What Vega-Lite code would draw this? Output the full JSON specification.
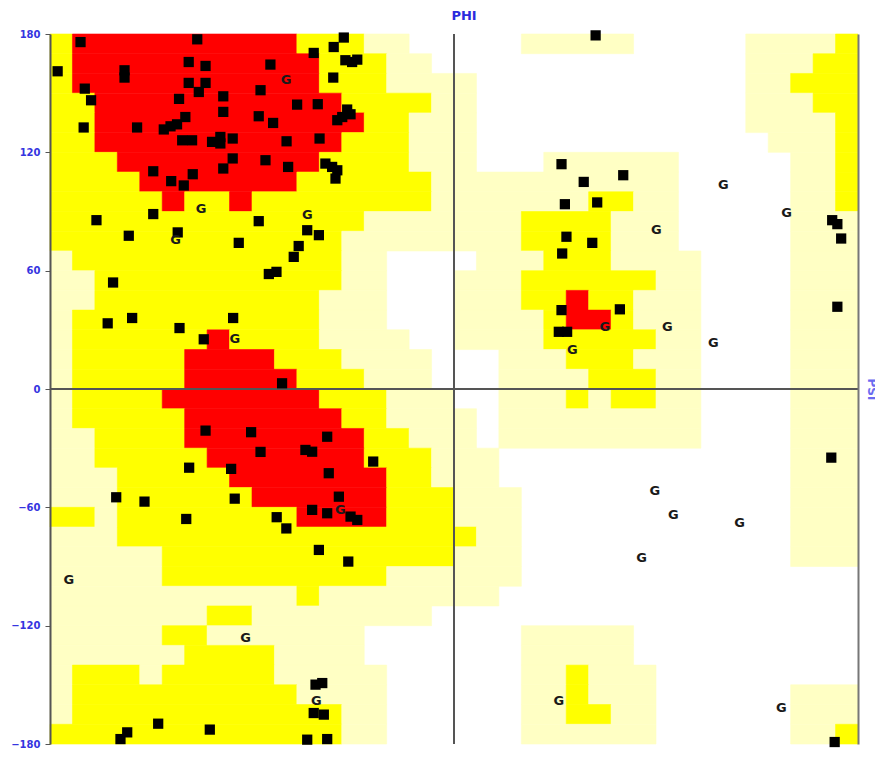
{
"$schema": "https://vega.github.io/schema/vega-lite/v6.json",
"width": 808, "height": 710,
"autosize": "none",
"padding": {"left": 50, "top": 34, "right": 17, "bottom": 21},
"background": "white",
"title": {"text": "PHI", "color": "#2b2bdd", "fontSize": 13, "font": "DejaVu Sans", "fontWeight": "bold", "offset": 6, "dx": 10, "anchor": "middle"},
"config": {"view": {"stroke": null}},
"datasets": {
"regions": [
{"phi0":-180,"phi1":-170,"psi0":170,"psi1":180,"zone":"allowed"},{"phi0":-170,"phi1":-70,"psi0":170,"psi1":180,"zone":"core"},{"phi0":-70,"phi1":-40,"psi0":170,"psi1":180,"zone":"allowed"},{"phi0":-40,"phi1":-20,"psi0":170,"psi1":180,"zone":"generous"},{"phi0":30,"phi1":80,"psi0":170,"psi1":180,"zone":"generous"},{"phi0":130,"phi1":170,"psi0":170,"psi1":180,"zone":"generous"},{"phi0":170,"phi1":180,"psi0":170,"psi1":180,"zone":"allowed"},
{"phi0":-180,"phi1":-170,"psi0":160,"psi1":170,"zone":"allowed"},{"phi0":-170,"phi1":-60,"psi0":160,"psi1":170,"zone":"core"},{"phi0":-60,"phi1":-30,"psi0":160,"psi1":170,"zone":"allowed"},{"phi0":-30,"phi1":-10,"psi0":160,"psi1":170,"zone":"generous"},{"phi0":130,"phi1":160,"psi0":160,"psi1":170,"zone":"generous"},{"phi0":160,"phi1":180,"psi0":160,"psi1":170,"zone":"allowed"},
{"phi0":-180,"phi1":-170,"psi0":150,"psi1":160,"zone":"allowed"},{"phi0":-170,"phi1":-60,"psi0":150,"psi1":160,"zone":"core"},{"phi0":-60,"phi1":-30,"psi0":150,"psi1":160,"zone":"allowed"},{"phi0":-30,"phi1":10,"psi0":150,"psi1":160,"zone":"generous"},{"phi0":130,"phi1":150,"psi0":150,"psi1":160,"zone":"generous"},{"phi0":150,"phi1":180,"psi0":150,"psi1":160,"zone":"allowed"},
{"phi0":-180,"phi1":-160,"psi0":140,"psi1":150,"zone":"allowed"},{"phi0":-160,"phi1":-50,"psi0":140,"psi1":150,"zone":"core"},{"phi0":-50,"phi1":-10,"psi0":140,"psi1":150,"zone":"allowed"},{"phi0":-10,"phi1":10,"psi0":140,"psi1":150,"zone":"generous"},{"phi0":130,"phi1":160,"psi0":140,"psi1":150,"zone":"generous"},{"phi0":160,"phi1":180,"psi0":140,"psi1":150,"zone":"allowed"},
{"phi0":-180,"phi1":-160,"psi0":130,"psi1":140,"zone":"allowed"},{"phi0":-160,"phi1":-40,"psi0":130,"psi1":140,"zone":"core"},{"phi0":-40,"phi1":-20,"psi0":130,"psi1":140,"zone":"allowed"},{"phi0":-20,"phi1":10,"psi0":130,"psi1":140,"zone":"generous"},{"phi0":130,"phi1":170,"psi0":130,"psi1":140,"zone":"generous"},{"phi0":170,"phi1":180,"psi0":130,"psi1":140,"zone":"allowed"},
{"phi0":-180,"phi1":-160,"psi0":120,"psi1":130,"zone":"allowed"},{"phi0":-160,"phi1":-50,"psi0":120,"psi1":130,"zone":"core"},{"phi0":-50,"phi1":-20,"psi0":120,"psi1":130,"zone":"allowed"},{"phi0":-20,"phi1":10,"psi0":120,"psi1":130,"zone":"generous"},{"phi0":140,"phi1":170,"psi0":120,"psi1":130,"zone":"generous"},{"phi0":170,"phi1":180,"psi0":120,"psi1":130,"zone":"allowed"},
{"phi0":-180,"phi1":-150,"psi0":110,"psi1":120,"zone":"allowed"},{"phi0":-150,"phi1":-60,"psi0":110,"psi1":120,"zone":"core"},{"phi0":-60,"phi1":-20,"psi0":110,"psi1":120,"zone":"allowed"},{"phi0":-20,"phi1":10,"psi0":110,"psi1":120,"zone":"generous"},{"phi0":40,"phi1":100,"psi0":110,"psi1":120,"zone":"generous"},{"phi0":150,"phi1":170,"psi0":110,"psi1":120,"zone":"generous"},{"phi0":170,"phi1":180,"psi0":110,"psi1":120,"zone":"allowed"},
{"phi0":-180,"phi1":-140,"psi0":100,"psi1":110,"zone":"allowed"},{"phi0":-140,"phi1":-70,"psi0":100,"psi1":110,"zone":"core"},{"phi0":-70,"phi1":-10,"psi0":100,"psi1":110,"zone":"allowed"},{"phi0":-10,"phi1":100,"psi0":100,"psi1":110,"zone":"generous"},{"phi0":150,"phi1":170,"psi0":100,"psi1":110,"zone":"generous"},{"phi0":170,"phi1":180,"psi0":100,"psi1":110,"zone":"allowed"},
{"phi0":-180,"phi1":-130,"psi0":90,"psi1":100,"zone":"allowed"},{"phi0":-130,"phi1":-120,"psi0":90,"psi1":100,"zone":"core"},{"phi0":-120,"phi1":-100,"psi0":90,"psi1":100,"zone":"allowed"},{"phi0":-100,"phi1":-90,"psi0":90,"psi1":100,"zone":"core"},{"phi0":-90,"phi1":-10,"psi0":90,"psi1":100,"zone":"allowed"},{"phi0":-10,"phi1":60,"psi0":90,"psi1":100,"zone":"generous"},{"phi0":60,"phi1":80,"psi0":90,"psi1":100,"zone":"allowed"},{"phi0":80,"phi1":100,"psi0":90,"psi1":100,"zone":"generous"},{"phi0":150,"phi1":170,"psi0":90,"psi1":100,"zone":"generous"},{"phi0":170,"phi1":180,"psi0":90,"psi1":100,"zone":"allowed"},
{"phi0":-180,"phi1":-40,"psi0":80,"psi1":90,"zone":"allowed"},{"phi0":-40,"phi1":30,"psi0":80,"psi1":90,"zone":"generous"},{"phi0":30,"phi1":70,"psi0":80,"psi1":90,"zone":"allowed"},{"phi0":70,"phi1":100,"psi0":80,"psi1":90,"zone":"generous"},{"phi0":150,"phi1":180,"psi0":80,"psi1":90,"zone":"generous"},
{"phi0":-180,"phi1":-50,"psi0":70,"psi1":80,"zone":"allowed"},{"phi0":-50,"phi1":30,"psi0":70,"psi1":80,"zone":"generous"},{"phi0":30,"phi1":70,"psi0":70,"psi1":80,"zone":"allowed"},{"phi0":70,"phi1":100,"psi0":70,"psi1":80,"zone":"generous"},{"phi0":150,"phi1":180,"psi0":70,"psi1":80,"zone":"generous"},
{"phi0":-180,"phi1":-170,"psi0":60,"psi1":70,"zone":"generous"},{"phi0":-170,"phi1":-50,"psi0":60,"psi1":70,"zone":"allowed"},{"phi0":-50,"phi1":-30,"psi0":60,"psi1":70,"zone":"generous"},{"phi0":10,"phi1":40,"psi0":60,"psi1":70,"zone":"generous"},{"phi0":40,"phi1":70,"psi0":60,"psi1":70,"zone":"allowed"},{"phi0":70,"phi1":110,"psi0":60,"psi1":70,"zone":"generous"},{"phi0":150,"phi1":180,"psi0":60,"psi1":70,"zone":"generous"},
{"phi0":-180,"phi1":-160,"psi0":50,"psi1":60,"zone":"generous"},{"phi0":-160,"phi1":-50,"psi0":50,"psi1":60,"zone":"allowed"},{"phi0":-50,"phi1":-30,"psi0":50,"psi1":60,"zone":"generous"},{"phi0":0,"phi1":30,"psi0":50,"psi1":60,"zone":"generous"},{"phi0":30,"phi1":90,"psi0":50,"psi1":60,"zone":"allowed"},{"phi0":90,"phi1":110,"psi0":50,"psi1":60,"zone":"generous"},{"phi0":150,"phi1":180,"psi0":50,"psi1":60,"zone":"generous"},
{"phi0":-180,"phi1":-160,"psi0":40,"psi1":50,"zone":"generous"},{"phi0":-160,"phi1":-60,"psi0":40,"psi1":50,"zone":"allowed"},{"phi0":-60,"phi1":-30,"psi0":40,"psi1":50,"zone":"generous"},{"phi0":0,"phi1":30,"psi0":40,"psi1":50,"zone":"generous"},{"phi0":30,"phi1":50,"psi0":40,"psi1":50,"zone":"allowed"},{"phi0":50,"phi1":60,"psi0":40,"psi1":50,"zone":"core"},{"phi0":60,"phi1":80,"psi0":40,"psi1":50,"zone":"allowed"},{"phi0":80,"phi1":110,"psi0":40,"psi1":50,"zone":"generous"},{"phi0":150,"phi1":180,"psi0":40,"psi1":50,"zone":"generous"},
{"phi0":-180,"phi1":-170,"psi0":30,"psi1":40,"zone":"generous"},{"phi0":-170,"phi1":-60,"psi0":30,"psi1":40,"zone":"allowed"},{"phi0":-60,"phi1":-30,"psi0":30,"psi1":40,"zone":"generous"},{"phi0":0,"phi1":40,"psi0":30,"psi1":40,"zone":"generous"},{"phi0":40,"phi1":50,"psi0":30,"psi1":40,"zone":"allowed"},{"phi0":50,"phi1":70,"psi0":30,"psi1":40,"zone":"core"},{"phi0":70,"phi1":80,"psi0":30,"psi1":40,"zone":"allowed"},{"phi0":80,"phi1":110,"psi0":30,"psi1":40,"zone":"generous"},{"phi0":150,"phi1":180,"psi0":30,"psi1":40,"zone":"generous"},
{"phi0":-180,"phi1":-170,"psi0":20,"psi1":30,"zone":"generous"},{"phi0":-170,"phi1":-110,"psi0":20,"psi1":30,"zone":"allowed"},{"phi0":-110,"phi1":-100,"psi0":20,"psi1":30,"zone":"core"},{"phi0":-100,"phi1":-60,"psi0":20,"psi1":30,"zone":"allowed"},{"phi0":-60,"phi1":-20,"psi0":20,"psi1":30,"zone":"generous"},{"phi0":0,"phi1":40,"psi0":20,"psi1":30,"zone":"generous"},{"phi0":40,"phi1":90,"psi0":20,"psi1":30,"zone":"allowed"},{"phi0":90,"phi1":110,"psi0":20,"psi1":30,"zone":"generous"},{"phi0":150,"phi1":180,"psi0":20,"psi1":30,"zone":"generous"},
{"phi0":-180,"phi1":-170,"psi0":10,"psi1":20,"zone":"generous"},{"phi0":-170,"phi1":-120,"psi0":10,"psi1":20,"zone":"allowed"},{"phi0":-120,"phi1":-80,"psi0":10,"psi1":20,"zone":"core"},{"phi0":-80,"phi1":-50,"psi0":10,"psi1":20,"zone":"allowed"},{"phi0":-50,"phi1":-10,"psi0":10,"psi1":20,"zone":"generous"},{"phi0":20,"phi1":50,"psi0":10,"psi1":20,"zone":"generous"},{"phi0":50,"phi1":80,"psi0":10,"psi1":20,"zone":"allowed"},{"phi0":80,"phi1":110,"psi0":10,"psi1":20,"zone":"generous"},{"phi0":150,"phi1":180,"psi0":10,"psi1":20,"zone":"generous"},
{"phi0":-180,"phi1":-170,"psi0":0,"psi1":10,"zone":"generous"},{"phi0":-170,"phi1":-120,"psi0":0,"psi1":10,"zone":"allowed"},{"phi0":-120,"phi1":-70,"psi0":0,"psi1":10,"zone":"core"},{"phi0":-70,"phi1":-40,"psi0":0,"psi1":10,"zone":"allowed"},{"phi0":-40,"phi1":-10,"psi0":0,"psi1":10,"zone":"generous"},{"phi0":20,"phi1":60,"psi0":0,"psi1":10,"zone":"generous"},{"phi0":60,"phi1":90,"psi0":0,"psi1":10,"zone":"allowed"},{"phi0":90,"phi1":110,"psi0":0,"psi1":10,"zone":"generous"},{"phi0":150,"phi1":180,"psi0":0,"psi1":10,"zone":"generous"},
{"phi0":-180,"phi1":-170,"psi0":-10,"psi1":0,"zone":"generous"},{"phi0":-170,"phi1":-130,"psi0":-10,"psi1":0,"zone":"allowed"},{"phi0":-130,"phi1":-60,"psi0":-10,"psi1":0,"zone":"core"},{"phi0":-60,"phi1":-30,"psi0":-10,"psi1":0,"zone":"allowed"},{"phi0":-30,"phi1":0,"psi0":-10,"psi1":0,"zone":"generous"},{"phi0":20,"phi1":50,"psi0":-10,"psi1":0,"zone":"generous"},{"phi0":50,"phi1":60,"psi0":-10,"psi1":0,"zone":"allowed"},{"phi0":60,"phi1":70,"psi0":-10,"psi1":0,"zone":"generous"},{"phi0":70,"phi1":90,"psi0":-10,"psi1":0,"zone":"allowed"},{"phi0":90,"phi1":110,"psi0":-10,"psi1":0,"zone":"generous"},{"phi0":150,"phi1":180,"psi0":-10,"psi1":0,"zone":"generous"},
{"phi0":-180,"phi1":-170,"psi0":-20,"psi1":-10,"zone":"generous"},{"phi0":-170,"phi1":-120,"psi0":-20,"psi1":-10,"zone":"allowed"},{"phi0":-120,"phi1":-50,"psi0":-20,"psi1":-10,"zone":"core"},{"phi0":-50,"phi1":-30,"psi0":-20,"psi1":-10,"zone":"allowed"},{"phi0":-30,"phi1":10,"psi0":-20,"psi1":-10,"zone":"generous"},{"phi0":20,"phi1":110,"psi0":-20,"psi1":-10,"zone":"generous"},{"phi0":150,"phi1":180,"psi0":-20,"psi1":-10,"zone":"generous"},
{"phi0":-180,"phi1":-160,"psi0":-30,"psi1":-20,"zone":"generous"},{"phi0":-160,"phi1":-120,"psi0":-30,"psi1":-20,"zone":"allowed"},{"phi0":-120,"phi1":-40,"psi0":-30,"psi1":-20,"zone":"core"},{"phi0":-40,"phi1":-20,"psi0":-30,"psi1":-20,"zone":"allowed"},{"phi0":-20,"phi1":10,"psi0":-30,"psi1":-20,"zone":"generous"},{"phi0":20,"phi1":110,"psi0":-30,"psi1":-20,"zone":"generous"},{"phi0":150,"phi1":180,"psi0":-30,"psi1":-20,"zone":"generous"},
{"phi0":-180,"phi1":-160,"psi0":-40,"psi1":-30,"zone":"generous"},{"phi0":-160,"phi1":-110,"psi0":-40,"psi1":-30,"zone":"allowed"},{"phi0":-110,"phi1":-40,"psi0":-40,"psi1":-30,"zone":"core"},{"phi0":-40,"phi1":-10,"psi0":-40,"psi1":-30,"zone":"allowed"},{"phi0":-10,"phi1":20,"psi0":-40,"psi1":-30,"zone":"generous"},{"phi0":150,"phi1":180,"psi0":-40,"psi1":-30,"zone":"generous"},
{"phi0":-180,"phi1":-150,"psi0":-50,"psi1":-40,"zone":"generous"},{"phi0":-150,"phi1":-100,"psi0":-50,"psi1":-40,"zone":"allowed"},{"phi0":-100,"phi1":-30,"psi0":-50,"psi1":-40,"zone":"core"},{"phi0":-30,"phi1":-10,"psi0":-50,"psi1":-40,"zone":"allowed"},{"phi0":-10,"phi1":20,"psi0":-50,"psi1":-40,"zone":"generous"},{"phi0":150,"phi1":180,"psi0":-50,"psi1":-40,"zone":"generous"},
{"phi0":-180,"phi1":-150,"psi0":-60,"psi1":-50,"zone":"generous"},{"phi0":-150,"phi1":-90,"psi0":-60,"psi1":-50,"zone":"allowed"},{"phi0":-90,"phi1":-30,"psi0":-60,"psi1":-50,"zone":"core"},{"phi0":-30,"phi1":0,"psi0":-60,"psi1":-50,"zone":"allowed"},{"phi0":0,"phi1":30,"psi0":-60,"psi1":-50,"zone":"generous"},{"phi0":150,"phi1":180,"psi0":-60,"psi1":-50,"zone":"generous"},
{"phi0":-180,"phi1":-160,"psi0":-70,"psi1":-60,"zone":"allowed"},{"phi0":-160,"phi1":-150,"psi0":-70,"psi1":-60,"zone":"generous"},{"phi0":-150,"phi1":-70,"psi0":-70,"psi1":-60,"zone":"allowed"},{"phi0":-70,"phi1":-30,"psi0":-70,"psi1":-60,"zone":"core"},{"phi0":-30,"phi1":0,"psi0":-70,"psi1":-60,"zone":"allowed"},{"phi0":0,"phi1":30,"psi0":-70,"psi1":-60,"zone":"generous"},{"phi0":150,"phi1":180,"psi0":-70,"psi1":-60,"zone":"generous"},
{"phi0":-180,"phi1":-150,"psi0":-80,"psi1":-70,"zone":"generous"},{"phi0":-150,"phi1":10,"psi0":-80,"psi1":-70,"zone":"allowed"},{"phi0":10,"phi1":30,"psi0":-80,"psi1":-70,"zone":"generous"},{"phi0":150,"phi1":180,"psi0":-80,"psi1":-70,"zone":"generous"},
{"phi0":-180,"phi1":-130,"psi0":-90,"psi1":-80,"zone":"generous"},{"phi0":-130,"phi1":0,"psi0":-90,"psi1":-80,"zone":"allowed"},{"phi0":0,"phi1":30,"psi0":-90,"psi1":-80,"zone":"generous"},{"phi0":150,"phi1":180,"psi0":-90,"psi1":-80,"zone":"generous"},
{"phi0":-180,"phi1":-130,"psi0":-100,"psi1":-90,"zone":"generous"},{"phi0":-130,"phi1":-30,"psi0":-100,"psi1":-90,"zone":"allowed"},{"phi0":-30,"phi1":30,"psi0":-100,"psi1":-90,"zone":"generous"},
{"phi0":-180,"phi1":-70,"psi0":-110,"psi1":-100,"zone":"generous"},{"phi0":-70,"phi1":-60,"psi0":-110,"psi1":-100,"zone":"allowed"},{"phi0":-60,"phi1":20,"psi0":-110,"psi1":-100,"zone":"generous"},
{"phi0":-180,"phi1":-110,"psi0":-120,"psi1":-110,"zone":"generous"},{"phi0":-110,"phi1":-90,"psi0":-120,"psi1":-110,"zone":"allowed"},{"phi0":-90,"phi1":-10,"psi0":-120,"psi1":-110,"zone":"generous"},
{"phi0":-180,"phi1":-130,"psi0":-130,"psi1":-120,"zone":"generous"},{"phi0":-130,"phi1":-110,"psi0":-130,"psi1":-120,"zone":"allowed"},{"phi0":-110,"phi1":-40,"psi0":-130,"psi1":-120,"zone":"generous"},{"phi0":30,"phi1":80,"psi0":-130,"psi1":-120,"zone":"generous"},
{"phi0":-180,"phi1":-120,"psi0":-140,"psi1":-130,"zone":"generous"},{"phi0":-120,"phi1":-80,"psi0":-140,"psi1":-130,"zone":"allowed"},{"phi0":-80,"phi1":-40,"psi0":-140,"psi1":-130,"zone":"generous"},{"phi0":30,"phi1":80,"psi0":-140,"psi1":-130,"zone":"generous"},
{"phi0":-180,"phi1":-170,"psi0":-150,"psi1":-140,"zone":"generous"},{"phi0":-170,"phi1":-140,"psi0":-150,"psi1":-140,"zone":"allowed"},{"phi0":-140,"phi1":-130,"psi0":-150,"psi1":-140,"zone":"generous"},{"phi0":-130,"phi1":-80,"psi0":-150,"psi1":-140,"zone":"allowed"},{"phi0":-80,"phi1":-30,"psi0":-150,"psi1":-140,"zone":"generous"},{"phi0":30,"phi1":50,"psi0":-150,"psi1":-140,"zone":"generous"},{"phi0":50,"phi1":60,"psi0":-150,"psi1":-140,"zone":"allowed"},{"phi0":60,"phi1":90,"psi0":-150,"psi1":-140,"zone":"generous"},
{"phi0":-180,"phi1":-170,"psi0":-160,"psi1":-150,"zone":"generous"},{"phi0":-170,"phi1":-70,"psi0":-160,"psi1":-150,"zone":"allowed"},{"phi0":-70,"phi1":-30,"psi0":-160,"psi1":-150,"zone":"generous"},{"phi0":30,"phi1":50,"psi0":-160,"psi1":-150,"zone":"generous"},{"phi0":50,"phi1":60,"psi0":-160,"psi1":-150,"zone":"allowed"},{"phi0":60,"phi1":90,"psi0":-160,"psi1":-150,"zone":"generous"},{"phi0":150,"phi1":180,"psi0":-160,"psi1":-150,"zone":"generous"},
{"phi0":-180,"phi1":-170,"psi0":-170,"psi1":-160,"zone":"generous"},{"phi0":-170,"phi1":-50,"psi0":-170,"psi1":-160,"zone":"allowed"},{"phi0":-50,"phi1":-30,"psi0":-170,"psi1":-160,"zone":"generous"},{"phi0":30,"phi1":50,"psi0":-170,"psi1":-160,"zone":"generous"},{"phi0":50,"phi1":70,"psi0":-170,"psi1":-160,"zone":"allowed"},{"phi0":70,"phi1":90,"psi0":-170,"psi1":-160,"zone":"generous"},{"phi0":150,"phi1":180,"psi0":-170,"psi1":-160,"zone":"generous"},
{"phi0":-180,"phi1":-50,"psi0":-180,"psi1":-170,"zone":"allowed"},{"phi0":-50,"phi1":-30,"psi0":-180,"psi1":-170,"zone":"generous"},{"phi0":30,"phi1":90,"psi0":-180,"psi1":-170,"zone":"generous"},{"phi0":150,"phi1":170,"psi0":-180,"psi1":-170,"zone":"generous"},{"phi0":170,"phi1":180,"psi0":-180,"psi1":-170,"zone":"allowed"}
],
"residues": [
{"phi":-166.4,"psi":175.9},{"phi":-114.4,"psi":177.3},{"phi":-176.6,"psi":161.1},{"phi":-146.8,"psi":161.6},{"phi":-146.8,"psi":157.9},{"phi":-118.2,"psi":165.8},{"phi":-110.7,"psi":163.8},{"phi":-81.8,"psi":164.5},{"phi":-164.5,"psi":152.3},{"phi":-161.7,"psi":146.4},{"phi":-118.2,"psi":155.2},{"phi":-110.7,"psi":155.2},{"phi":-113.7,"psi":150.6},{"phi":-122.5,"psi":147.1},{"phi":-102.8,"psi":148.4},{"phi":-86.2,"psi":151.5},{"phi":-69.9,"psi":144.2},{"phi":-165,"psi":132.6},{"phi":-141.2,"psi":132.6},{"phi":-129.3,"psi":131.6},{"phi":-126.3,"psi":133.2},{"phi":-123.4,"psi":134.2},{"phi":-119.7,"psi":137.9},{"phi":-102.8,"psi":140.5},{"phi":-87,"psi":138.3},{"phi":-80.6,"psi":134.9},{"phi":-121.1,"psi":126.1},{"phi":-116.7,"psi":126.1},{"phi":-107.8,"psi":125.3},{"phi":-104.1,"psi":127.8},{"phi":-104.1,"psi":124.5},{"phi":-98.6,"psi":127},{"phi":-74.6,"psi":125.6},{"phi":-98.6,"psi":116.9},{"phi":-84,"psi":116},{"phi":-73.9,"psi":112.6},{"phi":-134,"psi":110.4},{"phi":-116.4,"psi":108.9},{"phi":-102.8,"psi":111.8},{"phi":-126,"psi":105.4},{"phi":-120.4,"psi":103.2},{"phi":-159.3,"psi":85.6},{"phi":-134,"psi":88.7},{"phi":-144.9,"psi":77.7},{"phi":-123.1,"psi":79.4},{"phi":-87,"psi":85.1},{"phi":-95.9,"psi":74.1},
{"phi":-49.1,"psi":178.2},{"phi":-53.6,"psi":173.4},{"phi":-62.5,"psi":170.4},{"phi":-48.4,"psi":166.7},{"phi":-45.4,"psi":165.8},{"phi":-43.1,"psi":167},{"phi":-53.8,"psi":157.9},{"phi":-60.7,"psi":144.4},{"phi":-47.6,"psi":141.7},{"phi":-49.8,"psi":137.9},{"phi":-46.1,"psi":139.3},{"phi":-52,"psi":136.3},{"phi":-59.9,"psi":127},{"phi":-57.3,"psi":114.3},{"phi":-54.3,"psi":112.6},{"phi":-52,"psi":110.9},{"phi":-52.8,"psi":106.7},{"phi":-65.4,"psi":80.5},{"phi":-60.2,"psi":78},{"phi":-69.2,"psi":72.5},{"phi":-71.4,"psi":67},
{"phi":-151.9,"psi":54},{"phi":-154.3,"psi":33.3},{"phi":-143.4,"psi":36},{"phi":-122.3,"psi":30.9},{"phi":-111.5,"psi":25.2},{"phi":-98.4,"psi":36},{"phi":-82.5,"psi":58.3},{"phi":-79.1,"psi":59.4},{"phi":-76.6,"psi":2.9},{"phi":-110.7,"psi":-21.1},{"phi":-90.4,"psi":-21.9},{"phi":-86.2,"psi":-31.9},{"phi":-118,"psi":-39.9},{"phi":-99.3,"psi":-40.5},{"phi":-150.5,"psi":-54.9},{"phi":-137.9,"psi":-57.1},{"phi":-97.7,"psi":-55.6},
{"phi":-56.5,"psi":-24.2},{"phi":-66.2,"psi":-30.9},{"phi":-63.2,"psi":-31.8},{"phi":-36,"psi":-36.8},{"phi":-55.8,"psi":-42.7},{"phi":-51.3,"psi":-54.6},
{"phi":-63.2,"psi":-61.3},{"phi":-56.5,"psi":-63},{"phi":-46.1,"psi":-64.7},{"phi":-43.1,"psi":-66.4},{"phi":-74.7,"psi":-70.7},{"phi":-79,"psi":-65},{"phi":-60.2,"psi":-81.6},{"phi":-47.1,"psi":-87.5},{"phi":-61.7,"psi":-149.9},{"phi":-58.7,"psi":-149.1},{"phi":-62.5,"psi":-164.3},{"phi":-58,"psi":-165.1},{"phi":-65.4,"psi":-177.8},{"phi":-56.5,"psi":-177.5},
{"phi":-119.3,"psi":-65.9},{"phi":-131.8,"psi":-169.7},{"phi":-108.8,"psi":-172.7},{"phi":-145.6,"psi":-174.1},{"phi":-148.6,"psi":-177.5},
{"phi":63.1,"psi":179.3},{"phi":57.8,"psi":105},{"phi":75.4,"psi":108.4},{"phi":63.8,"psi":94.6},{"phi":61.6,"psi":74.1},{"phi":50.1,"psi":77.2},{"phi":47.9,"psi":114},{"phi":49.4,"psi":93.7},{"phi":48.2,"psi":68.7},{"phi":47.9,"psi":40},{"phi":46.7,"psi":29},{"phi":50.4,"psi":29},{"phi":73.9,"psi":40.4},
{"phi":170.8,"psi":41.7},{"phi":168.1,"psi":-34.8},{"phi":168.5,"psi":85.6},{"phi":170.8,"psi":83.6},{"phi":172.5,"psi":76.3},{"phi":169.6,"psi":-179}
],
"glycines": [
{"phi":-74.8,"psi":156.5,"label":"G"},{"phi":-112.7,"psi":91.5,"label":"G"},{"phi":-124.1,"psi":75.8,"label":"G"},{"phi":-65.4,"psi":88.1,"label":"G"},{"phi":-97.7,"psi":25.2,"label":"G"},{"phi":-50.6,"psi":-61.3,"label":"G"},{"phi":-171.6,"psi":-96.8,"label":"G"},{"phi":-92.9,"psi":-126,"label":"G"},{"phi":-61.3,"psi":-158.4,"label":"G"},{"phi":46.7,"psi":-158.4,"label":"G"},{"phi":52.7,"psi":19.8,"label":"G"},{"phi":67.2,"psi":31.3,"label":"G"},{"phi":95,"psi":31.6,"label":"G"},{"phi":115.5,"psi":23.2,"label":"G"},{"phi":90.2,"psi":80.5,"label":"G"},{"phi":120,"psi":103.3,"label":"G"},{"phi":148.2,"psi":89,"label":"G"},{"phi":89.5,"psi":-51.7,"label":"G"},{"phi":97.7,"psi":-63.8,"label":"G"},{"phi":127.2,"psi":-67.7,"label":"G"},{"phi":83.6,"psi":-85.8,"label":"G"},{"phi":145.8,"psi":-161.8,"label":"G"}
],
"zeroPhi": [{"phi": 0}],
"zeroPsi": [{"psi": 0}]
},
"layer": [
{
"data": {"name": "regions"},
"mark": {"type": "rect", "strokeWidth": 0.6},
"encoding": {
"x": {"field": "phi0", "type": "quantitative", "scale": {"domain": [-180, 180], "nice": false, "zero": false},
 "axis": {"values": [-180, -120, -60, 0, 60, 120, 180], "title": null, "grid": false, "zindex": 1, "labelColor": "#3535e0", "labelFont": "DejaVu Sans", "labelFontSize": 10, "labelFontWeight": "bold", "labelPadding": 6, "tickColor": "#555555", "tickSize": 4, "domainColor": "#555555", "domainWidth": 2, "labelFlush": false}},
"x2": {"field": "phi1"},
"y": {"field": "psi0", "type": "quantitative", "scale": {"domain": [-180, 180], "nice": false, "zero": false},
 "axis": {"orient": "left", "values": [-180, -120, -60, 0, 60, 120, 180], "title": null, "grid": false, "zindex": 1, "labelColor": "#3535e0", "labelFont": "DejaVu Sans", "labelFontSize": 10, "labelFontWeight": "bold", "labelPadding": 5, "tickColor": "#555555", "tickSize": 5, "domainColor": "#555555", "domainWidth": 2, "labelFlush": false}},
"y2": {"field": "psi1"},
"color": {"field": "zone", "type": "nominal", "scale": {"domain": ["core", "allowed", "generous"], "range": ["#ff0000", "#ffff00", "#ffffc4"]}, "legend": null},
"stroke": {"field": "zone", "type": "nominal", "scale": {"domain": ["core", "allowed", "generous"], "range": ["#ff0000", "#ffff00", "#ffffc4"]}, "legend": null}
}
},
{
"data": {"name": "zeroPhi"},
"mark": {"type": "rule", "color": "#555555", "strokeWidth": 2},
"encoding": {"x": {"field": "phi", "type": "quantitative", "scale": {"domain": [-180, 180], "nice": false, "zero": false}, "axis": null}}
},
{
"data": {"name": "zeroPsi"},
"mark": {"type": "rule", "color": "#555555", "strokeWidth": 2},
"encoding": {"y": {"field": "psi", "type": "quantitative", "scale": {"domain": [-180, 180], "nice": false, "zero": false},
 "axis": {"orient": "right", "title": "PSI", "labels": false, "ticks": false, "grid": false, "zindex": 1, "domain": true, "domainColor": "#777777", "domainWidth": 2, "titleColor": "#6a6af0", "titleFont": "DejaVu Sans", "titleFontSize": 12, "titleFontWeight": "bold", "titlePadding": 6}}}
},
{
"data": {"name": "residues"},
"mark": {"type": "square", "size": 105, "color": "#000000", "opacity": 1},
"encoding": {
"x": {"field": "phi", "type": "quantitative", "scale": {"domain": [-180, 180], "nice": false, "zero": false}, "axis": null},
"y": {"field": "psi", "type": "quantitative", "scale": {"domain": [-180, 180], "nice": false, "zero": false}, "axis": null}
}
},
{
"data": {"name": "glycines"},
"mark": {"type": "text", "font": "DejaVu Sans", "fontWeight": "bold", "fontSize": 13, "color": "#1a1a1a", "align": "center", "baseline": "middle"},
"encoding": {
"x": {"field": "phi", "type": "quantitative", "scale": {"domain": [-180, 180], "nice": false, "zero": false}, "axis": null},
"y": {"field": "psi", "type": "quantitative", "scale": {"domain": [-180, 180], "nice": false, "zero": false}, "axis": null},
"text": {"field": "label", "type": "nominal"}
}
}
],
"resolve": {"axis": {"y": "independent"}}
}
